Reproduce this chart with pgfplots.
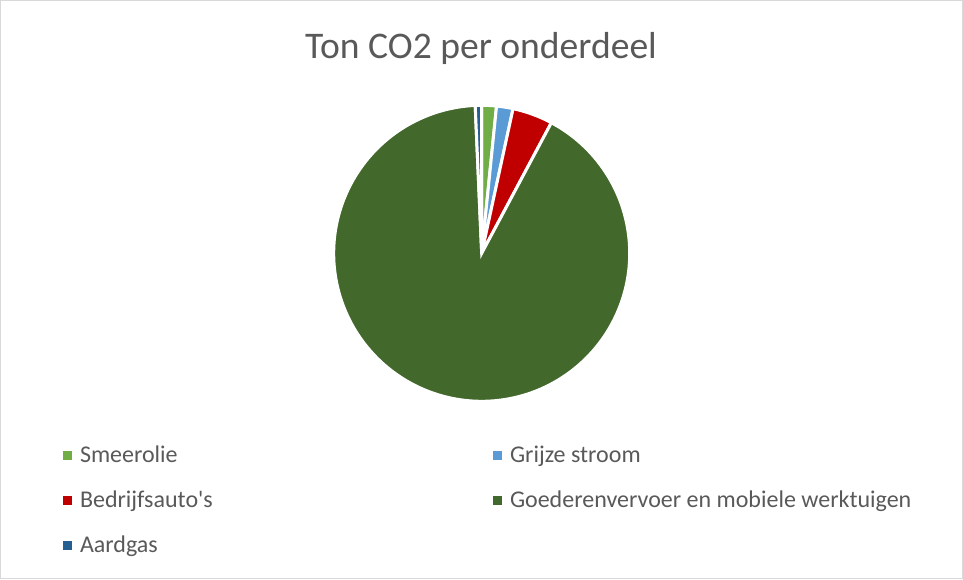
\documentclass[border=0pt]{standalone}
\usepackage{pgfplots}
\pgfplotsset{compat=1.18}
\usepgfplotslibrary{polar}
\usepackage{fontspec}
\setmainfont{Carlito}
\definecolor{cSmeer}{HTML}{70AD47}
\definecolor{cGrijs}{HTML}{5B9BD5}
\definecolor{cBedr}{HTML}{C00000}
\definecolor{cGoed}{HTML}{43682B}
\definecolor{cAard}{HTML}{255E91}
\definecolor{cText}{HTML}{595959}
\definecolor{cFrame}{HTML}{D9D9D9}
% shares in percent
\def\vA{1.6}% Smeerolie
\def\vB{1.8}% Grijze stroom
\def\vC{4.4}% Bedrijfsauto's
\def\vD{91.5}% Goederenvervoer en mobiele werktuigen
\def\vE{0.7}% Aardgas
\pgfmathsetmacro\aA{90}
\pgfmathsetmacro\aB{\aA-3.6*\vA}
\pgfmathsetmacro\aC{\aB-3.6*\vB}
\pgfmathsetmacro\aD{\aC-3.6*\vC}
\pgfmathsetmacro\aE{\aD-3.6*\vD}
\pgfmathsetmacro\aF{\aE-3.6*\vE}
\begin{document}
\begin{tikzpicture}[x=0.75pt,y=0.75pt]
\path (0,0) rectangle (963,579);
\draw[cFrame, line width=0.75pt] (0.5,0.5) rectangle (962.5,578.5);
\node[font=\fontsize{28.2}{33}\selectfont, text=cText, anchor=base] at (481,520) {Ton CO2 per onderdeel};
\begin{polaraxis}[
  at={(481.7,325.7)}, anchor=center,
  scale only axis, width=222pt, height=222pt,
  hide axis, ymin=0, ymax=148, xmin=0, xmax=360,
  clip=false,
  legend columns=2,
  legend cell align=left,
  legend style={at={(-0.9145,-0.151)}, anchor=north west, draw=none, fill=none,
    inner sep=0pt, outer sep=0pt, font=\fontsize{18}{21}\selectfont, text=cText,
    column sep=6pt, /tikz/every even column/.append style={column sep=0pt},
    row sep=18.1pt, nodes={inner sep=0pt, text height=12pt, text depth=4pt}},
  legend image code/.code={\fill[#1, draw=none] (0pt,-2.125pt) rectangle (6.75pt,4.625pt);},
]
\addplot[fill=cSmeer, draw=white, line width=2.25pt, domain=\aB:\aA, samples=20] {148} -- (axis cs:0,0) -- cycle;
\addlegendentry{\makebox[309.75pt][l]{Smeerolie}}
\addplot[fill=cGrijs, draw=white, line width=2.25pt, domain=\aC:\aB, samples=20] {148} -- (axis cs:0,0) -- cycle;
\addlegendentry{Grijze stroom}
\addplot[fill=cBedr, draw=white, line width=2.25pt, domain=\aD:\aC, samples=30] {148} -- (axis cs:0,0) -- cycle;
\addlegendentry{\makebox[309.75pt][l]{Bedrijfsauto\textquotesingle s}}
\addplot[fill=cGoed, draw=white, line width=2.25pt, domain=\aE:\aD, samples=300] {148} -- (axis cs:0,0) -- cycle;
\addlegendentry{Goederenvervoer en mobiele werktuigen}
\addplot[fill=cAard, draw=white, line width=2.25pt, domain=\aF:\aE, samples=10] {148} -- (axis cs:0,0) -- cycle;
\addlegendentry{\makebox[309.75pt][l]{Aardgas}}
\end{polaraxis}
\end{tikzpicture}
\end{document}
